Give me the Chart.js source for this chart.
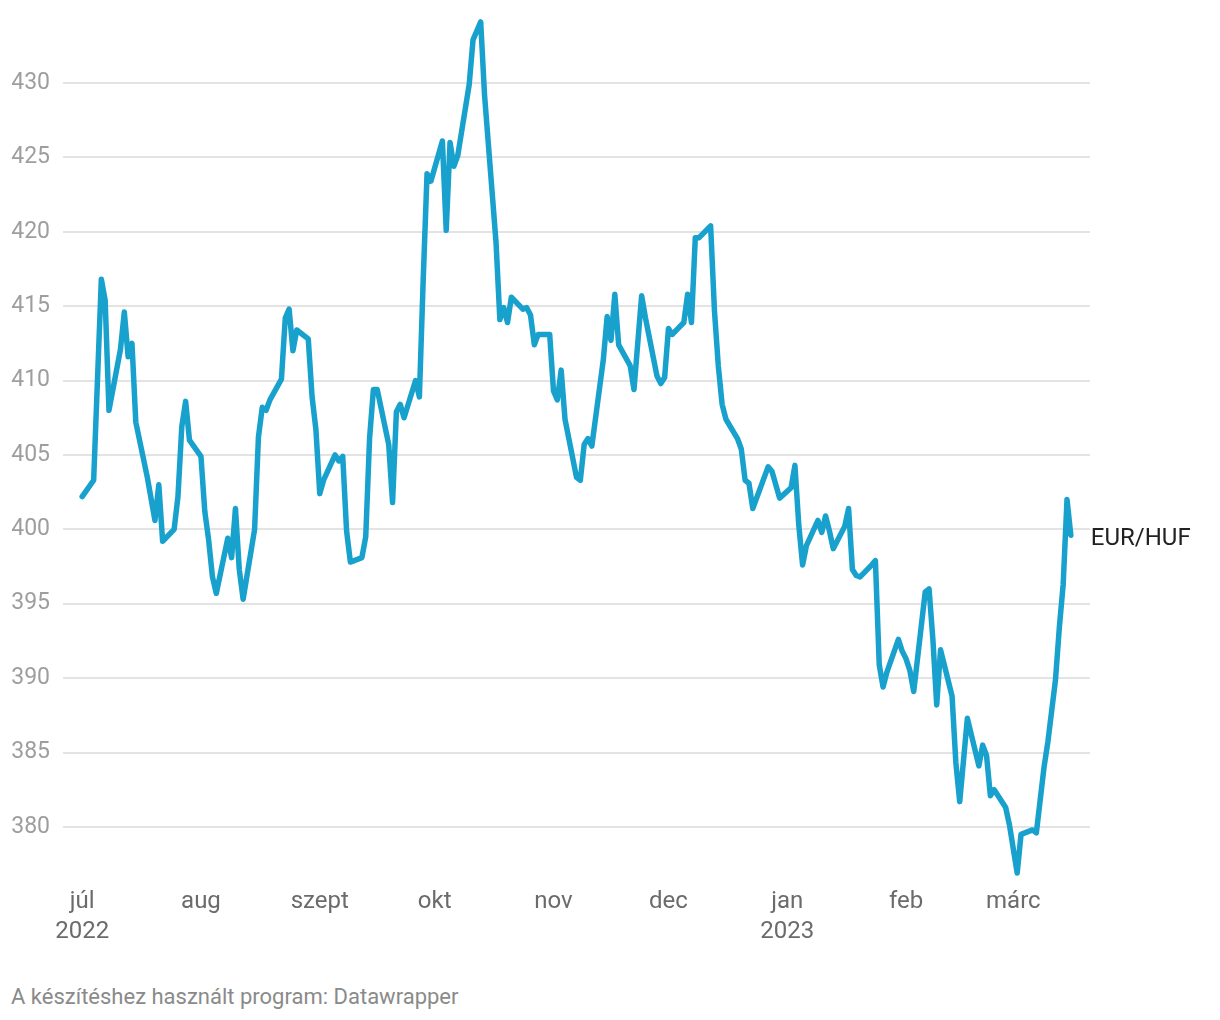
<!DOCTYPE html>
<html>
<head>
<meta charset="utf-8">
<script src="https://cdn.jsdelivr.net/npm/chart.js@4.4.0/dist/chart.umd.min.js"></script>
<style>
  html, body { margin: 0; padding: 0; background: #fff; }
  #wrap { position: absolute; left: 0; top: 0; width: 1220px; height: 960px; }
  #footer {
    position: absolute; left: 11px; top: 984px;
    font: 22px Roboto, sans-serif; line-height: 26px; color: #8a8a8a;
  }
</style>
</head>
<body>
<div id="wrap"><canvas id="chart"></canvas></div>
<div id="footer">A készítéshez használt program: Datawrapper</div>
<script>
// days since 2022-07-01
const days = [
  0, 3, 5, 6, 7, 10, 11, 12, 13, 14, 17, 19, 20, 21, 24, 25, 26, 27, 28,
  31, 32, 33, 34, 35, 38, 39, 40, 41, 42, 45, 46, 47, 48, 49, 52, 53, 54, 55, 56, 59, 60, 61,
  62, 63, 66, 67, 68, 69, 70, 73, 74, 75, 76, 77, 80, 81, 82, 83, 84, 87, 88, 89, 90, 91,
  94, 95, 96, 97, 98, 101, 102, 104, 105, 108, 109, 110, 111, 112, 115, 116, 117, 118, 119, 122,
  123, 124, 125, 126, 129, 130, 131, 132, 133, 136, 137, 138, 139, 140, 143, 144, 146, 147, 150, 151, 152,
  153, 154, 157, 158, 159, 160, 161, 164, 165, 166, 167, 168, 171, 172, 173, 174, 175, 179, 180, 182,
  185, 186, 187, 188, 189, 192, 193, 194, 195, 196, 199, 200, 201, 202, 203, 206, 207, 208, 209, 210, 213, 214,
  215, 216, 217, 220, 221, 222, 223, 224, 227, 228, 229, 231, 234, 235, 236, 237, 238, 241, 242,
  244, 245, 248, 249, 250, 251, 252, 254, 255, 256, 257, 258
];
const eurHuf = [
  402.2, 403.3, 416.8, 415.4, 408.0, 412.1, 414.6, 411.6, 412.5, 407.2, 403.5, 400.6, 403.0, 399.2, 400.0, 402.2, 406.9, 408.6, 406.0,
  404.9, 401.2, 399.3, 396.8, 395.7, 399.4, 398.1, 401.4, 397.3, 395.3, 400.0, 406.2, 408.2, 408.0, 408.7, 410.1, 414.2, 414.8, 412.0, 413.4, 412.8, 408.9, 406.7,
  402.4, 403.3, 405.0, 404.6, 404.9, 399.9, 397.8, 398.1, 399.5, 406.1, 409.4, 409.4, 405.7, 401.8, 407.9, 408.4, 407.5, 410.0, 408.9, 416.8, 423.9, 423.4,
  426.1, 420.1, 426.0, 424.4, 425.1, 429.9, 432.9, 434.1, 429.2, 419.3, 414.1, 414.9, 413.9, 415.6, 414.8, 414.9, 414.4, 412.4, 413.1, 413.1,
  409.3, 408.7, 410.7, 407.4, 403.5, 403.3, 405.7, 406.1, 405.6, 411.4, 414.3, 412.7, 415.8, 412.4, 411.0, 409.4, 415.7, 414.2, 410.3, 409.8, 410.2,
  413.5, 413.1, 413.9, 415.8, 413.9, 419.6, 419.6, 420.4, 414.7, 411.0, 408.4, 407.4, 406.1, 405.4, 403.3, 403.1, 401.4, 404.2, 403.9, 402.1,
  402.8, 404.3, 400.3, 397.6, 398.9, 400.6, 399.8, 400.9, 399.9, 398.7, 400.2, 401.4, 397.3, 396.9, 396.8, 397.6, 397.9, 390.9, 389.4, 390.4, 392.6, 391.8,
  391.3, 390.5, 389.1, 395.8, 396.0, 392.6, 388.2, 391.9, 388.8, 384.3, 381.7, 387.3, 384.1, 385.5, 384.8, 382.1, 382.5, 381.3, 380.1,
  376.9, 379.5, 379.8, 379.6, 381.8, 384.0, 385.7, 389.9, 393.4, 396.3, 402.0, 399.6
];

const monthDays = [0, 31, 62, 92, 123, 153, 184, 215, 243];
const monthLabels = [["júl", "2022"], "aug", "szept", "okt", "nov", "dec", ["jan", "2023"], "feb", "márc"];
const yTicks = [380, 385, 390, 395, 400, 405, 410, 415, 420, 425, 430];
const seriesName = "EUR/HUF";

const FONT = "Roboto, sans-serif";

const endLabelPlugin = {
  id: "endLabel",
  afterDatasetsDraw(chart) {
    const meta = chart.getDatasetMeta(0);
    const last = meta.data[meta.data.length - 1];
    if (!last) return;
    const ctx = chart.ctx;
    ctx.save();
    ctx.fillStyle = "#222";
    ctx.font = "24px " + FONT;
    ctx.textAlign = "left";
    ctx.textBaseline = "middle";
    ctx.fillText(seriesName, last.x + 20, last.y + 4);
    ctx.restore();
  },
};

new Chart(document.getElementById("chart"), {
  type: "line",
  data: {
    datasets: [
      {
        label: seriesName,
        data: days.map((d, i) => ({ x: d, y: eurHuf[i] })),
        borderColor: "#18a1cd",
        borderWidth: 5.5,
        borderJoinStyle: "round",
        borderCapStyle: "round",
        pointRadius: 0,
        tension: 0,
        fill: false,
        clip: 14,
      },
    ],
  },
  plugins: [endLabelPlugin],
  options: {
    responsive: true,
    maintainAspectRatio: false,
    animation: false,
    layout: { padding: { top: 16, right: 130, left: 0, bottom: 0 } },
    plugins: {
      legend: { display: false },
      tooltip: { enabled: false },
    },
    scales: {
      x: {
        type: "linear",
        min: -5,
        max: 263,
        afterBuildTicks(axis) {
          axis.ticks = monthDays.map((v) => ({ value: v }));
        },
        afterFit(axis) {
          axis.height = 81;
        },
        ticks: {
          autoSkip: false,
          maxRotation: 0,
          padding: 0,
          color: "#6b6b6b",
          font: { family: FONT, size: 24, lineHeight: 1.25 },
          callback: (value, index) => monthLabels[index],
        },
        grid: { display: false },
        border: { display: false },
      },
      y: {
        min: 376.5,
        max: 434.5,
        afterBuildTicks(axis) {
          axis.ticks = yTicks.map((v) => ({ value: v }));
        },
        afterFit(axis) {
          axis.width = 63;
          axis.paddingTop = 0;
          axis.paddingBottom = 0;
        },
        ticks: {
          padding: 13,
          color: "#9e9e9e",
          font: { family: FONT, size: 23 },
        },
        grid: { color: "#e3e3e3", lineWidth: 2, drawTicks: false },
        border: { display: false },
      },
    },
  },
});
</script>
</body>
</html>
